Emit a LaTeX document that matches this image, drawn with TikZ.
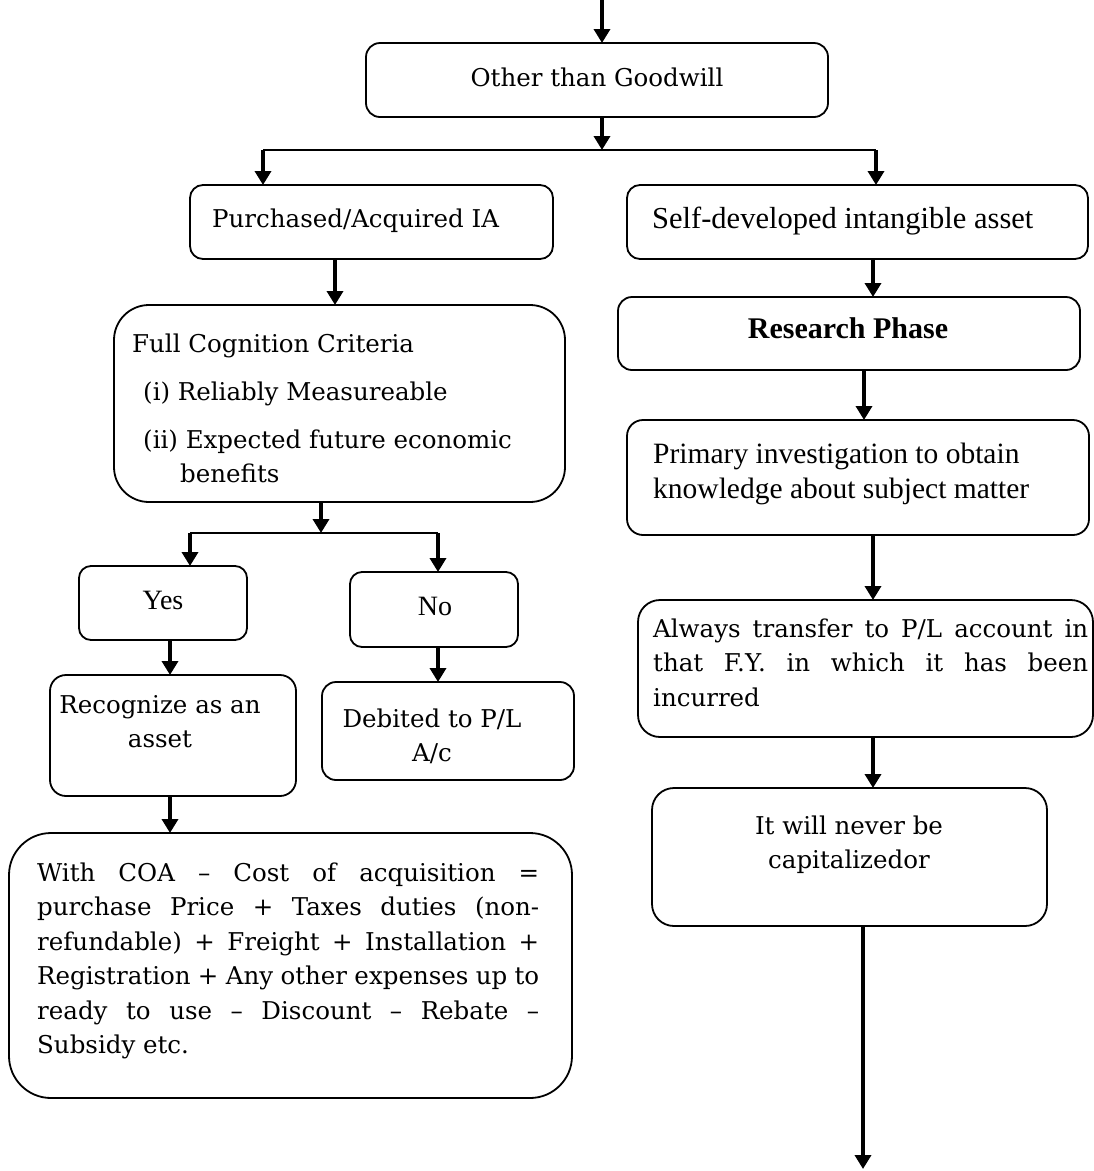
\documentclass[tikz,border=0pt]{standalone}
\usepackage{fontspec}
\newfontfamily\tnr{Liberation Serif}
\newfontfamily\dvs{DejaVu Serif}
\usetikzlibrary{arrows.meta}
% multi-line text whose baseline is the first line
\newcommand\txtlines[2]{\begin{tabular}[t]{@{}#1@{}}#2\end{tabular}}
\begin{document}
\begin{tikzpicture}[x=1pt,y=-1pt,
  box/.style={draw, line width=1.8pt, inner sep=0pt, outer sep=0pt, rectangle},
  arr/.style={line width=3.5pt, -{Triangle[width=16pt,length=14pt]}},
  link/.style={line width=2pt},
  cam/.style={inner sep=0pt, font=\dvs\fontsize{24.5}{34.5}\selectfont},
  tim/.style={inner sep=0pt, font=\tnr\fontsize{30.5}{35}\selectfont},
  timsm/.style={inner sep=0pt, font=\tnr\fontsize{28}{34}\selectfont},
  timbf/.style={inner sep=0pt, font=\tnr\bfseries\fontsize{30}{35}\selectfont},
]
\useasboundingbox[fill=white] (0,0) rectangle (1094,1171);

% ---- boxes ----
\node[box, rounded corners=14pt, minimum width=462pt, minimum height=74pt] (goodwill) at (597,80) {};
\node[box, rounded corners=13pt, minimum width=363pt, minimum height=74pt] (purchased) at (371.5,222) {};
\node[box, rounded corners=13pt, minimum width=461pt, minimum height=74pt] (selfdev) at (857.5,222) {};
\node[box, rounded corners=35pt, minimum width=451pt, minimum height=197pt] (criteria) at (339.5,403.5) {};
\node[box, rounded corners=14pt, minimum width=462pt, minimum height=73pt] (research) at (849,333.5) {};
\node[box, rounded corners=16pt, minimum width=462pt, minimum height=115pt] (primary) at (858,477.5) {};
\node[box, rounded corners=12pt, minimum width=168pt, minimum height=74pt] (yes) at (163,603) {};
\node[box, rounded corners=12pt, minimum width=168pt, minimum height=75pt] (no) at (434,609.5) {};
\node[box, rounded corners=16pt, minimum width=246pt, minimum height=121pt] (recog) at (173,735.5) {};
\node[box, rounded corners=14pt, minimum width=252pt, minimum height=98pt] (debit) at (448,731) {};
\node[box, rounded corners=42pt, minimum width=563pt, minimum height=265pt] (coa) at (290.5,965.5) {};
\node[box, rounded corners=22pt, minimum width=455pt, minimum height=137pt] (always) at (865.5,668.5) {};
\node[box, rounded corners=22pt, minimum width=395pt, minimum height=138pt] (never) at (849.5,857) {};

% ---- texts ----
\node[cam, anchor=base] (goodwill-t) at (597,86) {Other than Goodwill};
\node[cam, anchor=base west] (purchased-t) at (212,227) {Purchased/Acquired IA};
\node[tim, anchor=base west] (selfdev-t) at (652,228) {Self-developed intangible asset};
\node[timbf, anchor=base] (research-t) at (848,338) {Research Phase};
\node[tim, font=\tnr\fontsize{29.5}{35}\selectfont, anchor=base west] (primary-t) at (653,463)
  {\txtlines{l}{Primary investigation to obtain\\knowledge about subject matter}};
\node[cam, anchor=base west] (criteria-t) at (132,352)
  {\txtlines{l}{Full Cognition Criteria\\[13.5pt]
   \hspace*{11pt}(i) Reliably Measureable\\[13.5pt]
   \hspace*{11pt}(ii) Expected future economic\\
   \hspace*{48pt}benefits}};
\node[timsm, anchor=base] (yes-t) at (163,609) {Yes};
\node[timsm, anchor=base] (no-t) at (435,615) {No};
\node[cam, anchor=base] (recog-t) at (160,713) {\txtlines{c}{Recognize as an\\asset}};
\node[cam, anchor=base] (debit-t) at (432,727) {\txtlines{c}{Debited to P/L\\A/c}};
\node[cam, anchor=base west] (always-t) at (653,637)
  {\txtlines{l}{\makebox[435pt][s]{Always transfer to P/L account in}\\
   \makebox[435pt][s]{that F.Y. in which it has been}\\
   incurred}};
\node[cam, anchor=base] (never-t) at (849,834) {\txtlines{c}{It will never be\\capitalizedor}};
\node[cam, anchor=base west] (coa-t) at (37,881)
  {\txtlines{l}{\makebox[502pt][s]{With COA – Cost of acquisition =}\\
   \makebox[502pt][s]{purchase Price + Taxes duties (non-}\\
   \makebox[502pt][s]{refundable) + Freight + Installation +}\\
   \makebox[502pt][s]{Registration + Any other expenses up to}\\
   \makebox[502pt][s]{ready to use – Discount – Rebate –}\\
   Subsidy etc.}};

% ---- connector points ----
\coordinate (top) at (602,0);
\coordinate (splitA) at (602,150);
\coordinate (brL) at (263,150);
\coordinate (brR) at (876,150);
\coordinate (colP) at (335,0);
\coordinate (splitB) at (321,533);
\coordinate (brL2) at (190,533);
\coordinate (brR2) at (438,533);
\coordinate (colY) at (170,0);
\coordinate (colS) at (873,0);
\coordinate (colR) at (864,0);
\coordinate (bottom) at (863,1169);

% ---- connectors ----
\draw[arr] (top) -- (goodwill.north -| top);
\draw[arr] (goodwill.south -| splitA) -- (splitA);
\draw[link] (brL) -- (brR);
\draw[arr] (brL) -- (purchased.north -| brL);
\draw[arr] (brR) -- (selfdev.north -| brR);
\draw[arr] (purchased.south -| colP) -- (criteria.north -| colP);
\draw[arr] (criteria.south -| splitB) -- (splitB);
\draw[link] (brL2) -- (brR2);
\draw[arr] (brL2) -- (yes.north -| brL2);
\draw[arr] (brR2) -- (no.north -| brR2);
\draw[arr] (yes.south -| colY) -- (recog.north -| colY);
\draw[arr] (no.south -| brR2) -- (debit.north -| brR2);
\draw[arr] (recog.south -| colY) -- (coa.north -| colY);
\draw[arr] (selfdev.south -| colS) -- (research.north -| colS);
\draw[arr] (research.south -| colR) -- (primary.north -| colR);
\draw[arr] (primary.south -| colS) -- (always.north -| colS);
\draw[arr] (always.south -| colS) -- (never.north -| colS);
\draw[arr] (never.south -| bottom) -- (bottom);
\end{tikzpicture}
\end{document}
